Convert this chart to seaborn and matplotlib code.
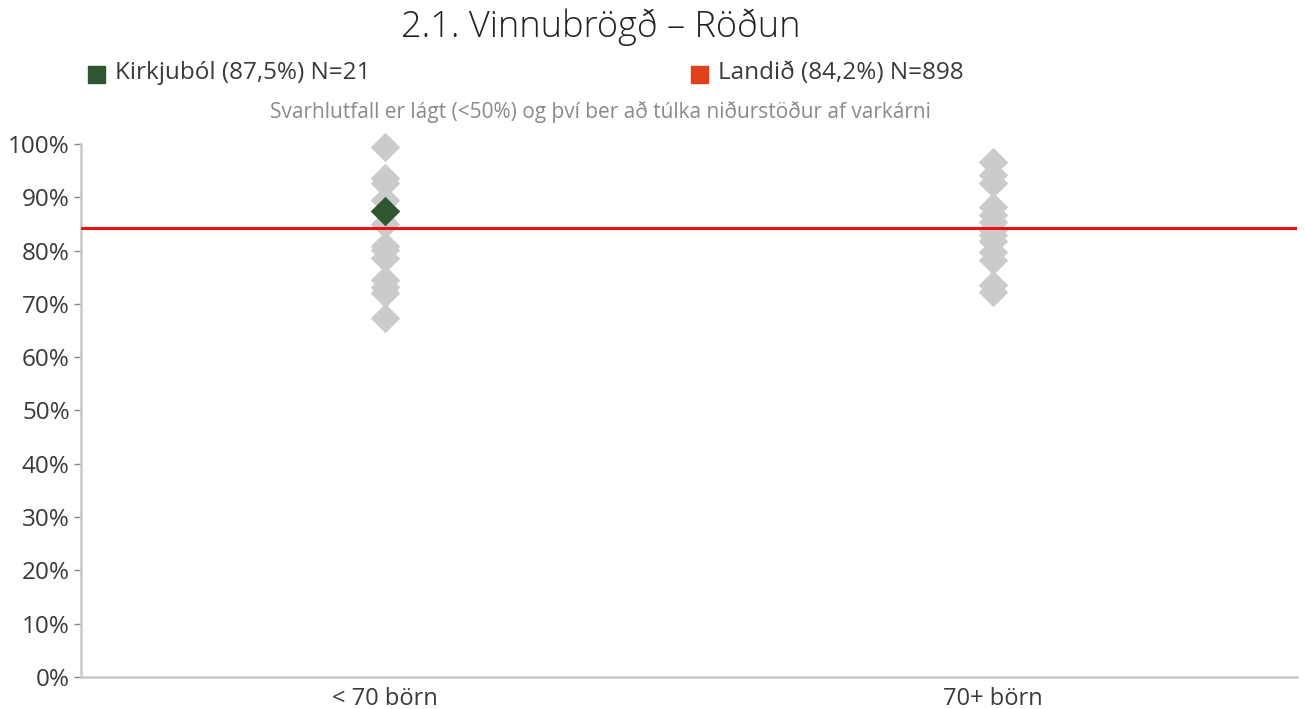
import matplotlib
matplotlib.use("Agg")
import matplotlib.pyplot as plt
from matplotlib.patches import Rectangle
from matplotlib.ticker import PercentFormatter, MultipleLocator
import pandas as pd
import seaborn as sns

# Values per school-size group (share of positive answers)
groups = ["< 70 börn", "70+ börn"]
small_schools = [0.994, 0.936, 0.927, 0.895, 0.875, 0.850, 0.809, 0.801, 0.786, 0.745, 0.732, 0.720, 0.674]
large_schools = [0.967, 0.942, 0.926, 0.882, 0.867, 0.854, 0.839, 0.829, 0.817, 0.798, 0.782, 0.735, 0.723]

school_name = "Kirkjuból"
school_group = "< 70 börn"
school_value = 0.875
school_n = 21
national_value = 0.842
national_n = 898

title = "2.1. Vinnubrögð – Röðun"
note = "Svarhlutfall er lágt (<50%) og því ber að túlka niðurstöður af varkárni"

df = pd.DataFrame({
    "group": [groups[0]] * len(small_schools) + [groups[1]] * len(large_schools),
    "value": small_schools + large_schools,
})
df_school = pd.DataFrame({"group": [school_group], "value": [school_value]})

sns.set_theme(style="white")
plt.rcParams["font.family"] = ["Open Sans", "DejaVu Sans"]

GREY = "#cbcbcb"
GREEN = "#2e5630"
RED = "#ee1111"
LEGEND_RED = "#e0401c"
TEXT = "#3a3a3a"

fig = plt.figure(figsize=(13.06, 7.09), dpi=100)
ax = fig.add_axes([0.062, 0.0451, 0.931, 0.7519])

sns.stripplot(data=df, x="group", y="value", order=groups, jitter=False,
              marker="D", s=15, color=GREY, linewidth=0, ax=ax, zorder=2,
              clip_on=False)
ax.axhline(national_value, color=RED, lw=2.2, zorder=3)
sns.stripplot(data=df_school, x="group", y="value", order=groups, jitter=False,
              marker="D", s=15, color=GREEN, linewidth=0, ax=ax, zorder=4,
              clip_on=False)

ax.set_xlim(-0.5, 1.5)
ax.set_ylim(0, 1.0)
ax.yaxis.set_major_locator(MultipleLocator(0.1))
ax.yaxis.set_major_formatter(PercentFormatter(1.0, decimals=0))
ax.set_xlabel("")
ax.set_ylabel("")

for side in ["top", "right"]:
    ax.spines[side].set_visible(False)
for side in ["left", "bottom"]:
    ax.spines[side].set_color("#c8c8c8")
    ax.spines[side].set_linewidth(1.8)

ax.tick_params(axis="y", which="major", left=True, length=5, width=1,
               color="#888888", labelsize=17.5, labelcolor=TEXT, pad=3)
ax.tick_params(axis="x", bottom=False, labelsize=17, labelcolor=TEXT, pad=1)

# Title, legend entries and note
fig.text(601 / 1306, 1 - 27 / 709, title, ha="center", va="center", fontsize=26,
         fontweight="light", color="#222222")

sq_w, sq_h = 17 / 1306, 17 / 709
fig.patches.append(Rectangle((88 / 1306, 1 - 83 / 709), sq_w, sq_h,
                             transform=fig.transFigure, color=GREEN))
fig.text(115 / 1306, 1 - 73 / 709,
         f"{school_name} ({school_value * 100:.1f}%) N={school_n}".replace(".", ","),
         ha="left", va="center", fontsize=17.5, color=TEXT)
fig.patches.append(Rectangle((691 / 1306, 1 - 83 / 709), sq_w, sq_h,
                             transform=fig.transFigure, color=LEGEND_RED))
fig.text(718 / 1306, 1 - 73 / 709,
         f"Landið ({national_value * 100:.1f}%) N={national_n}".replace(".", ","),
         ha="left", va="center", fontsize=17.5, color=TEXT)

fig.text(600 / 1306, 1 - 112 / 709, note, ha="center", va="center",
         fontsize=15, color="#8a8a8a")

fig.savefig("out.png", dpi=100)
